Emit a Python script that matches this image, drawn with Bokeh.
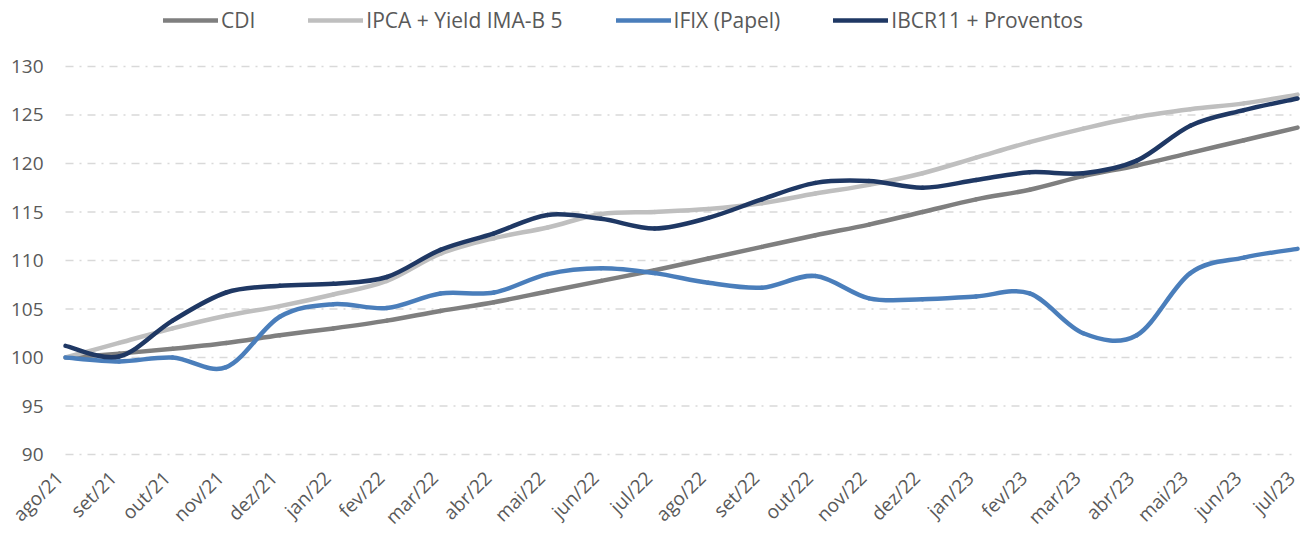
import math
import numpy as np
from bokeh.plotting import figure
from bokeh.models import ColumnDataSource, Legend, LegendItem, Range1d
from bokeh.core.properties import value
from bokeh.embed import file_html
from bokeh.resources import INLINE

months = ["ago/21", "set/21", "out/21", "nov/21", "dez/21", "jan/22", "fev/22", "mar/22",
          "abr/22", "mai/22", "jun/22", "jul/22", "ago/22", "set/22", "out/22", "nov/22",
          "dez/22", "jan/23", "fev/23", "mar/23", "abr/23", "mai/23", "jun/23", "jul/23"]

cdi = [100.0, 100.4, 100.9, 101.5, 102.3, 103.0, 103.8, 104.8, 105.7, 106.8, 107.9, 109.0,
       110.2, 111.4, 112.6, 113.7, 115.0, 116.3, 117.3, 118.7, 119.8, 121.1, 122.4, 123.7]

ipca = [100.0, 101.5, 103.0, 104.3, 105.3, 106.5, 107.9, 110.7, 112.3, 113.4, 114.8, 115.0,
        115.3, 115.9, 116.9, 117.8, 119.0, 120.6, 122.2, 123.6, 124.8, 125.6, 126.2, 127.1]

ifix = [100.0, 99.6, 100.0, 99.0, 104.2, 105.5, 105.1, 106.6, 106.7, 108.6, 109.2, 108.7,
        107.7, 107.2, 108.4, 106.1, 106.0, 106.3, 106.6, 102.5, 102.3, 108.7, 110.3, 111.2]

ibcr = [101.2, 100.1, 103.8, 106.7, 107.4, 107.6, 108.3, 111.1, 112.8, 114.7, 114.3, 113.3,
        114.4, 116.3, 118.0, 118.2, 117.5, 118.3, 119.1, 119.0, 120.3, 123.9, 125.5, 126.7]

y_ticks = [90, 95, 100, 105, 110, 115, 120, 125, 130]

names = ["CDI", "IPCA + Yield IMA-B 5", "IFIX (Papel)", "IBCR11 + Proventos"]
colors = ["#7f7f7f", "#bfbfbf", "#4a7ebb", "#1f3864"]
values = [cdi, ipca, ifix, ibcr]

FONT = "Open Sans"
TEXT = "#595959"


def smooth_source(ys):
    """Bezier segments through the data points (Excel-style smoothing)."""
    x = np.arange(len(ys), dtype=float)
    y = np.asarray(ys, dtype=float)
    xp = np.concatenate([[x[0]], x, [x[-1]]])
    yp = np.concatenate([[y[0]], y, [y[-1]]])
    n = len(x) - 1
    p0x, p1x, p2x, p3x = xp[0:n], xp[1:n + 1], xp[2:n + 2], xp[3:n + 3]
    p0y, p1y, p2y, p3y = yp[0:n], yp[1:n + 1], yp[2:n + 2], yp[3:n + 3]
    return ColumnDataSource(dict(
        x0=p1x, y0=p1y, x1=p2x, y1=p2y,
        cx0=p1x + (p2x - p0x) / 6.0, cy0=p1y + (p2y - p0y) / 6.0,
        cx1=p2x - (p3x - p1x) / 6.0, cy1=p2y - (p3y - p1y) / 6.0,
    ))


last = len(months) - 1

# the frame covers the whole figure; first month sits 65px from the left edge,
# 130 sits 66px from the top and 90 sits 454px from the top
p = figure(width=1304, height=533,
           x_range=Range1d(-1.2135, 23.1307), y_range=Range1d(81.856, 136.804),
           output_backend="svg", toolbar_location=None,
           min_border_left=0, min_border_right=0, min_border_top=0, min_border_bottom=0)

p.outline_line_color = None
p.background_fill_color = "white"
p.border_fill_color = "white"
p.xaxis.visible = False
p.yaxis.visible = False
p.xgrid.grid_line_color = None
p.ygrid.grid_line_color = None

# horizontal dash-dot gridlines spanning the category range
grid_src = ColumnDataSource(dict(x0=[0] * len(y_ticks), x1=[last] * len(y_ticks), y=y_ticks))
p.segment(x0="x0", y0="y", x1="x1", y1="y", source=grid_src,
          line_color="#d9d9d9", line_width=1.3, line_dash="8 6 2 6")

# y tick labels
ylab_src = ColumnDataSource(dict(x=[0] * len(y_ticks), y=y_ticks, t=[str(v) for v in y_ticks]))
p.text(x="x", y="y", text="t", source=ylab_src, x_offset=-22,
       text_align="right", text_baseline="middle",
       text_font=value(FONT), text_font_size="19px", text_color=TEXT)

# x tick labels, rotated 45 degrees under the 90 line
xlab_src = ColumnDataSource(dict(x=list(range(len(months))), y=[y_ticks[0]] * len(months), t=months))
p.text(x="x", y="y", text="t", source=xlab_src, angle=math.pi / 4,
       text_align="right", text_baseline="middle", x_offset=-6, y_offset=20,
       text_font=value(FONT), text_font_size="19px", text_color=TEXT)

items = []
for name, vals, col in zip(names, values, colors):
    r = p.bezier(x0="x0", y0="y0", x1="x1", y1="y1", cx0="cx0", cy0="cy0", cx1="cx1", cy1="cy1",
                 source=smooth_source(vals), line_color=col, line_width=4.5, line_cap="round")
    items.append(LegendItem(label=name, renderers=[r]))

legend = Legend(items=items, orientation="horizontal", location=(163, 499),
                spacing=53, label_standoff=3, glyph_width=55, glyph_height=24,
                label_height=24, padding=0, margin=0,
                border_line_color=None, background_fill_alpha=0,
                label_text_font=FONT, label_text_font_size="21px", label_text_color=TEXT)
p.add_layout(legend, "center")

open("out.html", "w").write(file_html(p, INLINE))
